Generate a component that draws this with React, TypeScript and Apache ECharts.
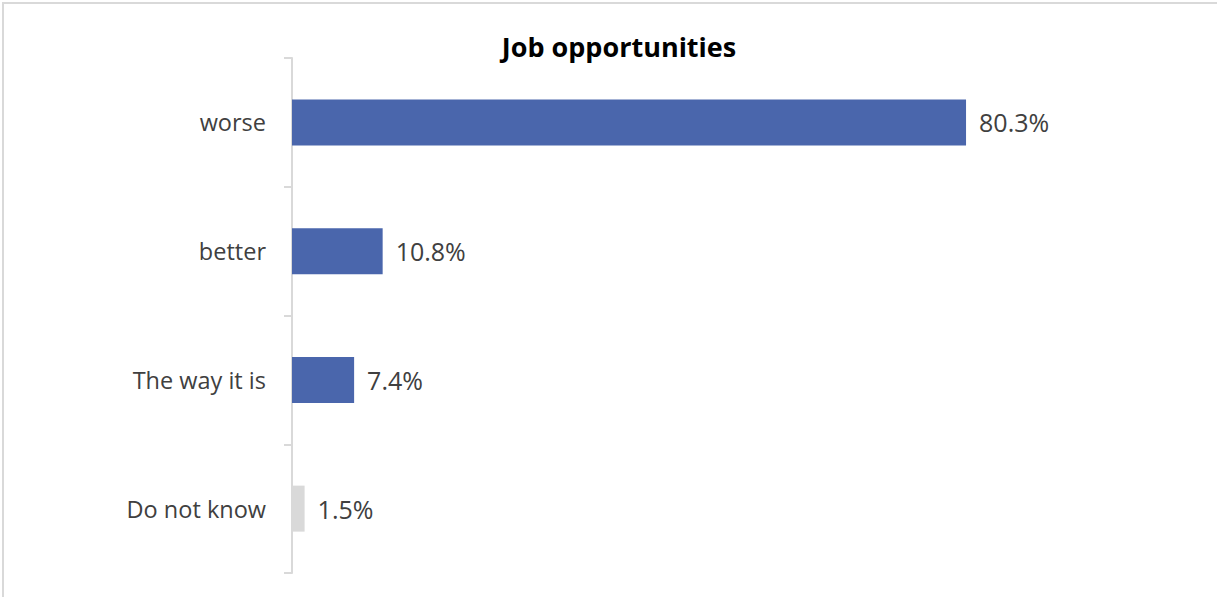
import React, { useEffect, useRef } from "react";
import * as echarts from "echarts";

const title = "Job opportunities";
const categories = ["worse", "better", "The way it is", "Do not know"];
const values = [80.3, 10.8, 7.4, 1.5];
const highlightGrey = ["Do not know"];

const BLUE = "#4A66AC";
const GREY = "#D9D9D9";
const TEXT = "#404040";
const FONT = "'Open Sans', 'Noto Sans', sans-serif";

export default function App() {
  const ref = useRef<HTMLDivElement>(null);
  useEffect(() => {
    if (!ref.current) return;
    const chart = echarts.init(ref.current, null, { renderer: "svg" });
    chart.setOption({
      animation: false,
      backgroundColor: "#ffffff",
      textStyle: { fontFamily: FONT },
      title: {
        text: title,
        left: 614,
        textAlign: "center",
        top: 28,
        textStyle: { fontFamily: FONT, fontWeight: "bold", fontSize: 27, color: "#000000" },
      },
      graphic: [
        {
          type: "polyline",
          shape: { points: [[3, 900], [3, 3], [1500, 3]] },
          style: { fill: "none", stroke: GREY, lineWidth: 2 },
          silent: true,
          z: 100,
        },
      ],
      grid: { left: 292, top: 58, bottom: 24, right: 85.6, containLabel: false },
      xAxis: {
        type: "value",
        min: 0,
        max: 100,
        show: false,
        splitLine: { show: false },
      },
      yAxis: {
        type: "category",
        data: categories,
        inverse: true,
        axisLine: { show: true, lineStyle: { color: GREY, width: 2 } },
        axisTick: { show: true, length: 8, lineStyle: { color: GREY, width: 2 } },
        axisLabel: { color: TEXT, fontSize: 23.5, fontFamily: FONT, margin: 26 },
      },
      series: [
        {
          type: "bar",
          barWidth: 46,
          data: values.map((v, i) => ({
            value: v,
            itemStyle: { color: highlightGrey.includes(categories[i]) ? GREY : BLUE },
          })),
          label: {
            show: true,
            position: "right",
            distance: 13,
            color: TEXT,
            fontSize: 25,
            fontFamily: FONT,
            formatter: (p: any) => `${p.value.toFixed(1)}%`,
          },
        },
      ],
    });
    return () => chart.dispose();
  }, []);
  return (
    <div
      ref={ref}
      style={{ position: "absolute", left: 0, top: 0, width: 1217, height: 597 }}
    />
  );
}
